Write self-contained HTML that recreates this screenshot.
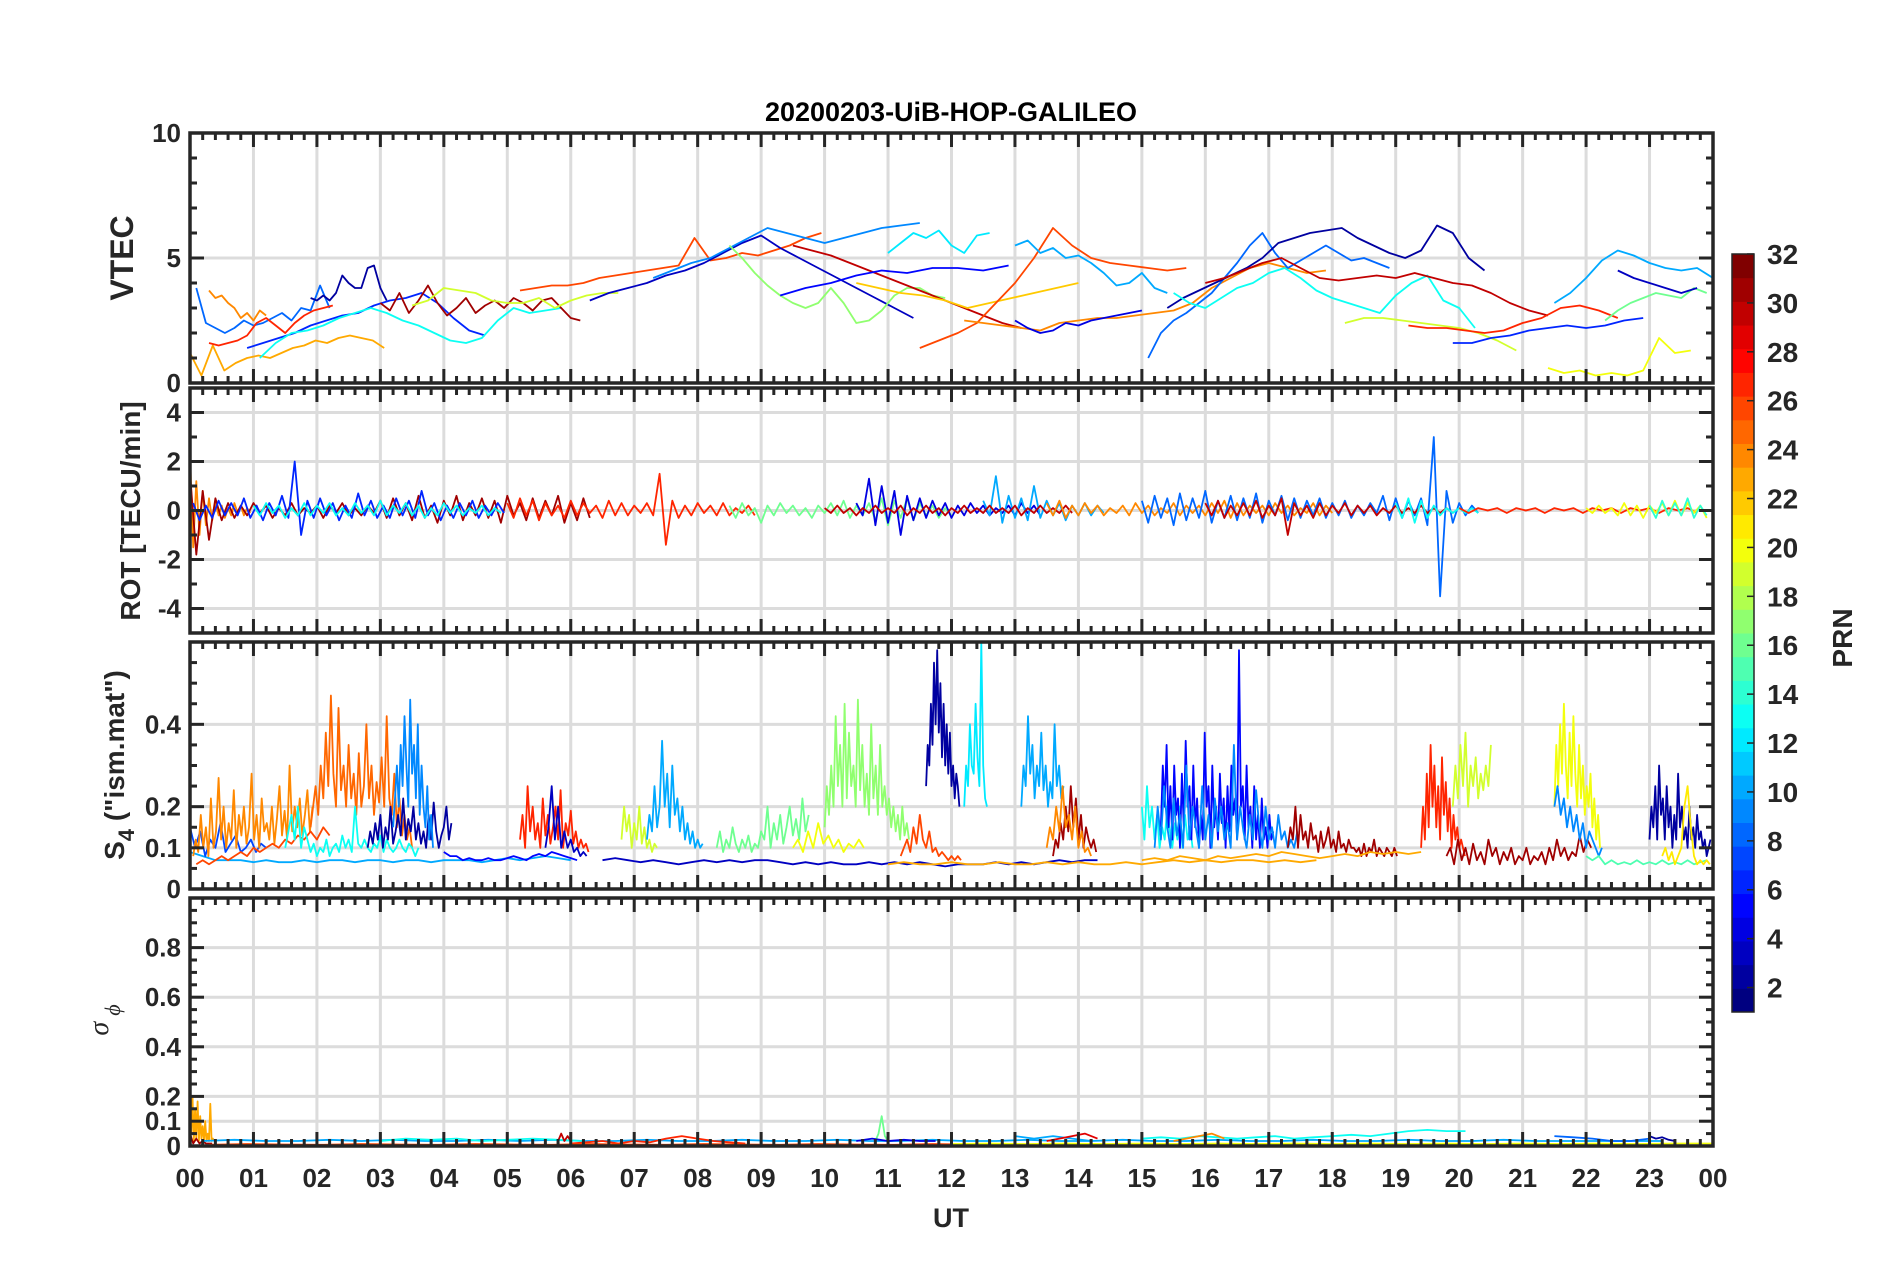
<!DOCTYPE html>
<html><head><meta charset="utf-8"><style>
html,body{margin:0;padding:0;background:#fff;}
svg{display:block;font-family:"Liberation Sans",Arial,sans-serif;}
</style></head><body>
<svg id="fig" width="1902" height="1272" viewBox="0 0 1902 1272" xmlns="http://www.w3.org/2000/svg">
<rect width="1902" height="1272" fill="#fff"/>
<text x="951" y="121" text-anchor="middle" font-size="27" font-weight="bold" fill="#000">20200203-UiB-HOP-GALILEO</text>
<g id="layers"></g>
</svg>
<script>
// ---------- data ----------
const hourLabels = ["00","01","02","03","04","05","06","07","08","09","10","11","12","13","14","15","16","17","18","19","20","21","22","23","00"];
const vtecTicks = [0,5,10];
const rotTicks = [-4,-2,0,2,4];
const s4Ticks = [0,0.1,0.2,0.4];
const sigTicks = [0,0.1,0.2,0.4,0.6,0.8];
const prnTicks = [2,4,6,8,10,12,14,16,18,20,22,24,26,28,30,32];

const vtecSeries = [
 {prn:24,t0:0.3,dt:0.1,v:[3.7,3.4,3.5,3.2,3.0,2.6,2.8,2.5,2.9,2.7]},
 {prn:23,t0:0,dt:0.18,v:[1.2,0.3,1.5,0.5,0.8,1.0,1.1,1.0,1.2,1.4,1.5,1.7,1.6,1.8,1.9,1.8,1.7,1.4]},
 {prn:8,t0:0.1,dt:0.15,v:[3.8,2.4,2.2,2.0,2.2,2.5,2.3,2.4,2.6,2.8,2.5,3.0,2.9,3.9,3.0]},
 {prn:27,t0:0.3,dt:0.15,v:[1.6,1.5,1.6,1.7,1.9,2.4,2.6,2.3,2.0,2.4,2.7,2.9,3.0,3.1]},
 {prn:2,t0:1.9,dt:0.1,v:[3.4,3.3,3.5,3.3,3.6,4.3,4.0,3.8,3.8,4.6,4.7,3.8,3.3]},
 {prn:6,t0:0.9,dt:0.25,v:[1.4,1.6,1.8,2.0,2.3,2.5,2.7,2.8,3.1,3.3,3.4,3.6,3.2,2.6,2.1,1.9]},
 {prn:13,t0:1.1,dt:0.25,v:[1.0,1.6,2.0,2.1,2.3,2.6,2.8,3.0,2.8,2.5,2.3,2.0,1.7,1.6,1.8,2.5,3.0,2.8,2.9,3.0]},
 {prn:31,t0:3.0,dt:0.15,v:[3.2,2.9,3.6,2.8,3.3,3.9,3.2,2.7,3.0,3.4,2.8,3.1,3.3,3.0,3.4,3.2,2.9,3.3,3.4,3.0,2.6,2.5]},
 {prn:19,t0:3.5,dt:0.25,v:[3.1,3.3,3.8,3.7,3.6,3.3,3.2,3.2,3.4,3.0,3.3,3.5,3.6,3.6]},
 {prn:26,t0:5.2,dt:0.25,v:[3.7,3.8,3.9,3.9,4.0,4.2,4.3,4.4,4.5,4.6,4.7,5.8,4.9,5.0,5.2,5.1,5.3,5.5,5.8,6.0]},
 {prn:3,t0:6.3,dt:0.3,v:[3.3,3.6,3.8,4.0,4.3,4.5,4.8,5.2,5.6,5.9,5.4,5.0,4.6,4.2,3.8,3.4,3.0,2.6]},
 {prn:9,t0:7.3,dt:0.3,v:[4.2,4.5,4.8,5.0,5.4,5.8,6.2,6.0,5.8,5.6,5.8,6.0,6.2,6.3,6.4]},
 {prn:17,t0:8.5,dt:0.2,v:[5.5,5.0,4.4,3.9,3.5,3.2,3.0,3.2,3.8,3.2,2.4,2.5,2.9,3.5,3.8,3.8,3.5,3.4]},
 {prn:30,t0:9.5,dt:0.3,v:[5.5,5.3,5.1,4.8,4.5,4.2,3.9,3.6,3.3,3.0,2.7,2.4,2.2]},
 {prn:5,t0:9.3,dt:0.4,v:[3.5,3.8,4.0,4.3,4.5,4.4,4.6,4.6,4.5,4.7]},
 {prn:22,t0:10.5,dt:0.35,v:[4.0,3.8,3.6,3.5,3.3,3.0,3.2,3.4,3.6,3.8,4.0]},
 {prn:12,t0:11,dt:0.2,v:[5.2,5.6,6.0,5.8,6.1,5.5,5.2,5.9,6.0]},
 {prn:26,t0:11.5,dt:0.3,v:[1.4,1.7,2.0,2.4,3.2,4.0,5.0,6.2,5.5,5.0,4.8,4.7,4.6,4.5,4.6]},
 {prn:24,t0:12.2,dt:0.3,v:[2.5,2.4,2.3,2.2,2.1,2.4,2.5,2.6,2.6,2.7,2.8,2.9,3.2,3.8,4.2,4.6,4.8,4.6,4.4,4.5]},
 {prn:10,t0:13.0,dt:0.2,v:[5.5,5.7,5.2,5.4,5.0,5.1,4.8,4.4,3.9,4.0,4.4,3.8,3.6]},
 {prn:4,t0:13,dt:0.2,v:[2.5,2.2,2.0,2.1,2.4,2.3,2.5,2.6,2.7,2.8,2.9]},
 {prn:8,t0:15.1,dt:0.2,v:[1.0,2.0,2.5,2.8,3.2,3.6,4.2,4.8,5.5,6.0,5.2,4.6,4.9,5.2,5.5,5.2,4.9,5.0,4.8,4.6]},
 {prn:2,t0:15.4,dt:0.25,v:[3.0,3.4,3.7,4.0,4.3,4.6,5.0,5.6,5.8,6.0,6.1,6.2,5.8,5.5,5.2,5.0,5.3,6.3,6.0,5.0,4.5]},
 {prn:13,t0:15.5,dt:0.25,v:[3.6,3.2,3.0,3.4,3.8,4.0,4.4,4.6,4.2,3.7,3.4,3.2,3.0,2.8,3.5,4.0,4.3,3.3,3.0,2.2]},
 {prn:30,t0:16,dt:0.3,v:[4.0,4.2,4.5,4.8,5.0,4.6,4.2,4.1,4.2,4.3,4.2,4.4,4.2,4.0,3.9,3.6,3.2,2.9,2.7]},
 {prn:19,t0:18.2,dt:0.3,v:[2.4,2.6,2.6,2.5,2.4,2.3,2.2,2.0,1.7,1.3]},
 {prn:27,t0:19.2,dt:0.3,v:[2.3,2.2,2.2,2.1,2.0,2.1,2.4,2.6,3.0,3.1,2.9,2.6]},
 {prn:6,t0:19.9,dt:0.3,v:[1.6,1.6,1.8,1.9,2.1,2.2,2.3,2.2,2.3,2.5,2.6]},
 {prn:10,t0:21.5,dt:0.25,v:[3.2,3.6,4.2,4.9,5.3,5.1,4.8,4.6,4.5,4.6,4.2,4.0,3.7,3.6,3.5]},
 {prn:16,t0:22.3,dt:0.2,v:[2.5,2.9,3.2,3.4,3.6,3.5,3.4,3.8,3.6]},
 {prn:20,t0:21.4,dt:0.25,v:[0.6,0.4,0.5,0.3,0.4,0.3,0.5,1.8,1.2,1.3]},
 {prn:3,t0:22.5,dt:0.25,v:[4.5,4.2,4.0,3.8,3.6,3.8]}
];

const rotSeries = [
 {prn:24,t0:0,dt:0.05,v:[2.3,-1.5,1.2,-1.0,0.8,-0.6,0.5,-0.4,0.3,-0.2,0.2,-0.3,0.1,-0.2,0.3,-0.1,0.2,-0.2,0.1,-0.1]},
 {prn:31,t0:0,dt:0.1,v:[1.5,-1.8,0.8,-1.2,0.5,-0.4,0.3,-0.3,0.2,-0.2,0.3,-0.1,0.2,-0.3,0.1,-0.2,0.3,-0.2,0.1,-0.1,0.2,-0.3,0.2,-0.1,0.3,-0.2,0.1,-0.2,0.2,-0.1,0.4,-0.3,0.5,-0.2,0.3,-0.4,0.6,-0.3,0.2,-0.5,0.4,-0.2,0.6,-0.4,0.3,-0.2,0.5,-0.3,0.4,-0.5,0.6,-0.2,0.3,-0.4,0.5,-0.3,0.4,-0.2,0.6,-0.5,0.3,-0.4,0.5,-0.3]},
 {prn:6,t0:0.05,dt:0.1,v:[0.3,-0.4,0.2,-0.3,0.4,-0.2,0.3,-0.2,0.5,-0.3,0.2,-0.4,0.3,-0.2,0.6,-0.3,2.0,-1.0,0.4,-0.3,0.5,-0.2,0.3,-0.4,0.2,-0.3,0.7,-0.2,0.4,-0.3,0.2,-0.3,0.5,-0.2,0.4,-0.3,0.8,-0.2,0.3,-0.4,0.2,-0.3,0.3,-0.2,0.4,-0.3,0.2,-0.2,0.3,-0.1]},
 {prn:13,t0:1.0,dt:0.1,v:[0.2,-0.2,0.3,-0.1,0.2,-0.3,0.1,-0.2,0.3,-0.2,0.2,-0.1,0.3,-0.2,0.1,-0.2,0.3,-0.1,0.2,-0.2,0.4,-0.2,0.2,-0.1,0.3,-0.2,0.2,-0.3,0.1,-0.2,0.3,-0.1,0.2,-0.2,0.1,-0.1,0.2,-0.2,0.1,-0.1]},
 {prn:27,t0:5.0,dt:0.1,v:[0.3,-0.3,0.5,-0.2,0.4,-0.4,0.3,-0.2,0.2,-0.3,0.4,-0.2,0.3,-0.1,0.2,-0.3,0.4,-0.2,0.3,-0.2,0.2,-0.1,0.3,-0.2,1.5,-1.4,0.4,-0.3,0.2,-0.2,0.3,-0.1,0.2,-0.2,0.3,-0.2,0.1,-0.1,0.2,-0.2]},
 {prn:16,t0:8.5,dt:0.1,v:[0.2,-0.3,0.3,-0.2,0.1,-0.5,0.2,-0.2,0.3,-0.1,0.2,-0.2,0.1,-0.3,0.2,-0.1,0.3,-0.2,0.4,-0.3,0.2,-0.2,0.3,-0.4,0.5,-0.6,0.4,-0.3,0.5,-0.4,0.3,-0.2,0.2,-0.3,0.1,-0.2]},
 {prn:4,t0:10.5,dt:0.1,v:[0.3,-0.2,1.3,-0.6,1.0,-0.5,0.8,-1.0,0.6,-0.4,0.5,-0.3,0.4,-0.2,0.3,-0.3,0.2,-0.2,0.3,-0.1,0.2,-0.2,0.1,-0.1,0.2,-0.2,0.3,-0.1,0.2,-0.2]},
 {prn:10,t0:12.5,dt:0.1,v:[0.4,-0.2,1.4,-0.5,0.6,-0.3,0.5,-0.4,1.0,-0.3,0.4,-0.2,0.3,-0.4,0.2,-0.2,0.3,-0.2,0.2,-0.1]},
 {prn:30,t0:10,dt:0.1,v:[0.1,-0.1,0.2,-0.1,0.1,-0.2,0.1,-0.1,0.2,-0.1,0.1,-0.1,0.2,-0.2,0.1,-0.1,0.2,-0.1,0.1,-0.2,0.1,-0.1,0.2,-0.1,0.1,-0.1,0.2,-0.1,0.1,-0.1,0.2,-0.2,0.1,-0.1,0.2,-0.1,0.1,-0.1,0.2,-0.1]},
 {prn:24,t0:13.5,dt:0.1,v:[0.3,-0.2,0.4,-0.3,0.2,-0.2,0.3,-0.1,0.2,-0.2,0.1,-0.1,0.2,-0.2,0.3,-0.1,0.2,-0.2,0.1,-0.1,0.3,-0.2,0.2,-0.1,0.2,-0.2,0.3,-0.1,0.4,-0.3,0.3,-0.2,0.2,-0.1,0.2,-0.2,0.3,-0.1,0.2,-0.2,0.1,-0.1,0.3,-0.2,0.2,-0.1]},
 {prn:8,t0:15,dt:0.1,v:[0.4,-0.5,0.6,-0.3,0.5,-0.6,0.7,-0.4,0.5,-0.3,0.8,-0.5,0.4,-0.3,0.6,-0.4,0.5,-0.3,0.7,-0.5,0.4,-0.2,0.6,-0.4,0.5,-0.3,0.4,-0.2,0.5,-0.3,0.3,-0.2,0.4,-0.3,0.2,-0.2,0.3,-0.1,0.6,-0.4,0.5,-0.3,0.4,-0.2,0.5,-0.6,3.0,-3.5,0.8,-0.5,0.3,-0.2,0.2,-0.1]},
 {prn:30,t0:16,dt:0.1,v:[0.3,-0.2,0.4,-0.3,0.2,-0.2,0.3,-0.2,0.4,-0.3,0.2,-0.2,0.5,-1.0,0.3,-0.2,0.2,-0.3,0.3,-0.2,0.2,-0.1,0.3,-0.2,0.2,-0.1,0.2,-0.2,0.1,-0.1,0.2,-0.1,0.1,-0.1,0.2,-0.1,0.1,-0.1,0.1,-0.1]},
 {prn:13,t0:19.0,dt:0.1,v:[0.3,-0.3,0.5,-0.5,0.4,-0.3,0.2,-0.2,0.1,-0.1,0.1,-0.1,0.1,-0.1]},
 {prn:27,t0:20,dt:0.15,v:[0.1,-0.1,0.1,0,0.1,-0.1,0.1,0,0.1,-0.1,0.1,0,0.1,-0.1,0.1,0,0.1,-0.1,0.1,0,0.1,-0.1,0.1,0,0.1,-0.1]},
 {prn:20,t0:22,dt:0.1,v:[0.1,-0.1,0.2,-0.1,0.1,-0.2,0.3,-0.2,0.2,-0.3,0.2,-0.1,0.3,-0.2,0.4,-0.2,0.3,-0.1,0.2,-0.3]},
 {prn:14,t0:23,dt:0.1,v:[0.2,-0.3,0.4,-0.2,0.3,-0.2,0.5,-0.3,0.2,-0.2]}
];

const s4Series = [
 {prn:10,t0:0,dt:0.2,v:[0.09,0.08,0.07,0.07,0.07,0.065,0.07,0.065,0.065,0.07,0.065,0.07,0.07,0.065,0.07,0.07,0.065,0.07,0.07,0.065,0.07,0.07,0.07,0.065,0.07,0.075,0.07,0.075,0.08,0.075,0.07]},
 {prn:7,t0:0,dt:0.08,v:[0.15,0.1,0.14,0.08,0.12,0.1,0.16,0.09,0.11,0.13,0.09,0.1,0.12,0.09,0.11,0.1]},
 {prn:24,t0:0.05,dt:0.04,v:[0.08,0.12,0.09,0.18,0.1,0.15,0.08,0.22,0.1,0.14,0.27,0.12,0.2,0.1,0.16,0.12,0.24,0.1,0.18,0.13,0.2,0.11,0.15,0.28,0.12,0.18,0.1,0.22,0.14,0.16,0.12,0.2,0.11,0.17,0.25,0.13,0.19,0.12,0.3,0.14,0.2,0.15,0.22,0.13,0.18,0.24,0.14,0.2]},
 {prn:25,t0:1.9,dt:0.04,v:[0.15,0.2,0.25,0.18,0.3,0.22,0.38,0.25,0.47,0.28,0.2,0.44,0.24,0.3,0.2,0.35,0.22,0.28,0.18,0.33,0.2,0.25,0.4,0.22,0.3,0.18,0.26,0.21,0.32,0.2,0.42,0.22,0.18,0.28,0.15,0.22,0.13,0.18,0.12,0.15,0.1]},
 {prn:26,t0:0.1,dt:0.1,v:[0.06,0.07,0.06,0.07,0.08,0.07,0.08,0.09,0.08,0.1,0.09,0.1,0.11,0.1,0.12,0.11,0.13,0.12,0.14,0.12,0.15,0.13]},
 {prn:13,t0:1.5,dt:0.05,v:[0.1,0.14,0.18,0.12,0.2,0.1,0.15,0.12,0.09,0.11,0.08,0.1,0.09,0.12,0.08,0.1,0.11,0.09,0.13,0.1,0.12,0.09,0.2,0.11,0.1,0.12,0.1,0.09,0.11,0.1,0.13,0.09,0.12,0.1,0.09,0.1,0.12,0.1,0.09,0.11,0.1,0.08,0.1]},
 {prn:2,t0:2.8,dt:0.04,v:[0.1,0.14,0.11,0.16,0.12,0.18,0.1,0.15,0.12,0.2,0.11,0.14,0.18,0.13,0.22,0.12,0.17,0.14,0.2,0.12,0.16,0.11,0.14,0.1,0.18,0.12,0.21,0.14,0.1,0.13,0.15,0.2,0.12,0.16]},
 {prn:9,t0:3.2,dt:0.03,v:[0.15,0.22,0.3,0.2,0.35,0.25,0.42,0.3,0.2,0.46,0.28,0.35,0.22,0.4,0.18,0.3,0.2,0.15,0.25,0.12,0.18,0.1]},
 {prn:5,t0:4.0,dt:0.1,v:[0.09,0.08,0.08,0.07,0.075,0.07,0.07,0.075,0.07,0.07,0.075,0.08,0.075,0.07,0.08,0.085,0.08,0.09,0.085,0.08,0.075,0.07]},
 {prn:27,t0:5.2,dt:0.04,v:[0.12,0.18,0.1,0.25,0.14,0.2,0.12,0.16,0.1,0.22,0.13,0.18,0.11,0.15,0.2,0.12,0.24,0.1,0.16,0.13,0.19,0.11,0.14,0.1,0.12,0.1,0.11,0.09]},
 {prn:3,t0:5.6,dt:0.05,v:[0.1,0.15,0.25,0.12,0.2,0.1,0.14,0.1,0.12,0.09,0.1,0.08,0.09,0.08]},
 {prn:19,t0:6.8,dt:0.04,v:[0.12,0.2,0.14,0.18,0.1,0.16,0.12,0.2,0.11,0.15,0.1,0.12,0.09,0.11,0.1]},
 {prn:10,t0:7.2,dt:0.04,v:[0.12,0.18,0.14,0.25,0.15,0.2,0.36,0.2,0.28,0.15,0.3,0.18,0.22,0.14,0.2,0.12,0.16,0.11,0.14,0.1,0.12,0.1,0.11]},
 {prn:3,t0:6.5,dt:0.2,v:[0.07,0.075,0.07,0.065,0.07,0.065,0.06,0.065,0.07,0.065,0.07,0.065,0.07,0.07,0.065,0.06,0.065,0.06,0.065,0.06,0.06,0.065,0.06,0.065,0.06,0.065,0.06,0.055,0.06,0.06,0.06,0.065,0.06,0.065,0.06,0.065,0.07,0.065,0.07,0.07]},
 {prn:16,t0:8.3,dt:0.05,v:[0.1,0.14,0.09,0.12,0.1,0.15,0.11,0.09,0.12,0.1,0.13,0.09,0.11,0.1,0.14,0.12,0.2,0.1,0.16,0.12,0.18,0.11,0.15,0.2,0.13,0.17,0.12,0.22,0.14,0.18]},
 {prn:17,t0:10.0,dt:0.035,v:[0.15,0.25,0.18,0.3,0.2,0.42,0.25,0.35,0.2,0.45,0.22,0.38,0.25,0.3,0.2,0.46,0.24,0.35,0.2,0.28,0.18,0.4,0.22,0.3,0.18,0.35,0.2,0.25,0.18,0.22,0.15,0.2,0.14,0.18,0.12,0.2,0.13,0.16,0.12]},
 {prn:20,t0:9.5,dt:0.08,v:[0.1,0.12,0.09,0.14,0.1,0.16,0.11,0.13,0.1,0.12,0.09,0.11,0.1,0.12,0.1]},
 {prn:2,t0:11.6,dt:0.025,v:[0.25,0.35,0.3,0.45,0.35,0.55,0.4,0.58,0.38,0.5,0.32,0.45,0.3,0.4,0.28,0.38,0.25,0.3,0.22,0.28,0.25,0.2]},
 {prn:12,t0:12.2,dt:0.03,v:[0.2,0.3,0.25,0.4,0.3,0.28,0.45,0.32,0.25,0.6,0.3,0.22,0.2]},
 {prn:26,t0:11.2,dt:0.05,v:[0.08,0.1,0.12,0.09,0.15,0.11,0.18,0.12,0.1,0.14,0.09,0.1,0.08,0.09,0.08,0.07,0.08,0.07,0.08,0.07]},
 {prn:10,t0:13.1,dt:0.035,v:[0.2,0.3,0.25,0.42,0.28,0.35,0.22,0.3,0.25,0.38,0.24,0.3,0.2,0.26,0.22,0.4,0.25,0.3,0.22,0.25]},
 {prn:31,t0:13.6,dt:0.04,v:[0.08,0.12,0.1,0.16,0.12,0.2,0.14,0.25,0.15,0.22,0.12,0.18,0.1,0.15,0.12,0.1,0.12,0.09]},
 {prn:24,t0:13.5,dt:0.05,v:[0.1,0.15,0.12,0.2,0.14,0.25,0.15,0.18,0.12,0.2,0.1,0.14,0.09,0.1,0.08]},
 {prn:23,t0:11,dt:0.25,v:[0.06,0.065,0.06,0.06,0.065,0.06,0.06,0.065,0.06,0.06,0.065,0.06,0.065,0.06,0.06,0.065,0.06,0.065,0.07,0.065,0.07,0.065,0.07,0.07,0.065,0.07,0.065,0.07]},
 {prn:13,t0:15.0,dt:0.04,v:[0.2,0.12,0.25,0.15,0.2,0.12,0.18,0.1,0.15,0.12,0.2,0.14,0.1,0.16,0.12,0.2,0.1,0.18,0.12,0.15,0.1]},
 {prn:5,t0:15.3,dt:0.03,v:[0.15,0.3,0.2,0.35,0.15,0.25,0.12,0.3,0.18,0.22,0.1,0.28,0.15,0.36,0.2,0.25,0.12,0.3,0.15,0.22,0.1,0.18,0.12,0.38,0.2,0.25,0.1,0.3,0.15,0.2,0.12,0.28,0.16,0.22,0.1,0.25,0.14,0.3,0.18,0.22,0.12,0.58,0.2,0.25,0.12,0.3,0.15,0.2,0.1,0.25,0.12,0.18,0.1,0.22,0.12,0.15,0.1,0.18,0.12,0.14]},
 {prn:9,t0:15.2,dt:0.05,v:[0.1,0.2,0.12,0.25,0.15,0.1,0.22,0.13,0.18,0.1,0.3,0.12,0.2,0.15,0.1,0.25,0.12,0.18,0.1,0.22,0.14,0.2,0.12,0.16,0.1,0.35,0.12,0.2,0.14,0.1,0.18,0.12,0.24,0.15,0.1,0.2,0.12,0.15,0.1,0.18,0.12,0.14,0.1,0.12,0.1,0.14]},
 {prn:31,t0:17.3,dt:0.04,v:[0.1,0.15,0.12,0.2,0.1,0.18,0.12,0.14,0.1,0.16,0.12,0.13,0.09,0.14,0.1,0.12,0.15,0.1,0.12,0.09,0.14,0.1,0.11,0.09,0.12,0.1,0.1,0.09,0.1,0.08,0.11,0.08,0.1,0.09,0.12,0.08,0.1,0.09,0.08,0.1,0.09,0.08,0.1,0.08]},
 {prn:23,t0:15,dt:0.2,v:[0.07,0.075,0.07,0.08,0.075,0.07,0.08,0.075,0.08,0.085,0.08,0.09,0.085,0.08,0.075,0.08,0.085,0.08,0.09,0.085,0.09,0.085,0.09]},
 {prn:27,t0:19.4,dt:0.03,v:[0.1,0.2,0.12,0.28,0.15,0.35,0.2,0.3,0.15,0.25,0.12,0.32,0.18,0.26,0.14,0.22,0.1,0.18,0.12,0.15,0.1,0.12,0.1,0.08]},
 {prn:19,t0:19.9,dt:0.04,v:[0.2,0.3,0.22,0.35,0.25,0.38,0.2,0.3,0.25,0.32,0.22,0.28,0.24,0.3,0.25,0.35]},
 {prn:31,t0:19.8,dt:0.06,v:[0.08,0.1,0.06,0.12,0.07,0.1,0.06,0.11,0.07,0.09,0.06,0.12,0.08,0.1,0.06,0.09,0.07,0.1,0.06,0.08,0.07,0.1,0.06,0.08,0.07,0.09,0.06,0.1,0.07,0.12,0.08,0.1,0.07,0.09,0.08,0.13,0.09,0.12,0.1]},
 {prn:20,t0:21.5,dt:0.03,v:[0.2,0.35,0.25,0.4,0.28,0.45,0.3,0.22,0.38,0.25,0.42,0.28,0.2,0.35,0.22,0.3,0.18,0.25,0.2,0.28,0.15,0.22,0.12,0.18,0.1]},
 {prn:9,t0:21.5,dt:0.05,v:[0.2,0.25,0.18,0.22,0.15,0.2,0.14,0.18,0.12,0.16,0.1,0.14,0.12,0.1,0.08,0.1]},
 {prn:15,t0:22.0,dt:0.1,v:[0.08,0.07,0.08,0.06,0.07,0.06,0.065,0.06,0.07,0.06,0.065,0.06,0.07,0.06,0.065,0.06,0.07,0.06,0.065,0.07]},
 {prn:2,t0:23.0,dt:0.03,v:[0.12,0.2,0.15,0.25,0.12,0.3,0.18,0.22,0.12,0.25,0.15,0.2,0.1,0.18,0.12,0.28,0.15,0.2,0.12,0.15,0.1,0.2,0.12,0.15,0.1,0.18,0.12,0.14,0.1,0.12,0.08,0.1,0.12]},
 {prn:21,t0:23.2,dt:0.05,v:[0.08,0.1,0.07,0.09,0.06,0.08,0.1,0.2,0.25,0.15,0.08,0.06,0.07,0.06,0.07,0.06]}
];

const sigSeries = [
 {prn:23,t0:0,dt:0.02,v:[0.3,0.05,0.2,0.02,0.15,0.03,0.18,0.02,0.12,0.03,0.08,0.02,0.1,0.02,0.05,0.02,0.17,0.02,0.03,0.02]},
 {prn:31,t0:0,dt:0.05,v:[0.05,0.01,0.03,0.01,0.02,0.01,0.01,0.01]},
 {prn:10,t0:0.2,dt:0.5,v:[0.02,0.025,0.02,0.02,0.025,0.02,0.025,0.02,0.02,0.025,0.02,0.025,0.02,0.02,0.025,0.02,0.02,0.025,0.02,0.02,0.025,0.02,0.02,0.025,0.02,0.02,0.025,0.02,0.02,0.025,0.02,0.02,0.025,0.02,0.02,0.025,0.02,0.02,0.025,0.02,0.02,0.025,0.02,0.02,0.02,0.02,0.02]},
 {prn:13,t0:3,dt:0.4,v:[0.02,0.03,0.025,0.03,0.02,0.025,0.03,0.025,0.02]},
 {prn:27,t0:6,dt:0.25,v:[0.01,0.015,0.02,0.01,0.02,0.015,0.03,0.04,0.03,0.02,0.015,0.01]},
 {prn:30,t0:5.8,dt:0.05,v:[0.02,0.05,0.02,0.04,0.02]},
 {prn:16,t0:10.8,dt:0.05,v:[0.02,0.05,0.12,0.04,0.02]},
 {prn:4,t0:10.5,dt:0.25,v:[0.02,0.03,0.02,0.025,0.02,0.02]},
 {prn:10,t0:13,dt:0.3,v:[0.04,0.03,0.04,0.03,0.02]},
 {prn:29,t0:13.5,dt:0.2,v:[0.02,0.03,0.04,0.05,0.03]},
 {prn:13,t0:15,dt:0.3,v:[0.03,0.035,0.03,0.04,0.035,0.03,0.035,0.04,0.03,0.035,0.04,0.045,0.04,0.05,0.06,0.065,0.06,0.06]},
 {prn:24,t0:15.5,dt:0.2,v:[0.02,0.03,0.04,0.05,0.03]},
 {prn:8,t0:21.5,dt:0.3,v:[0.04,0.035,0.03,0.02,0.02,0.03]},
 {prn:2,t0:23,dt:0.1,v:[0.04,0.03,0.035,0.025,0.02]},
 {prn:26,t0:0.3,dt:0.6,v:[0.005,0.008,0.006,0.005,0.008,0.006,0.005,0.008,0.006,0.005,0.008,0.006,0.005,0.008,0.006,0.005,0.008,0.006,0.005,0.008,0.006,0.005,0.008,0.006,0.005,0.008,0.006,0.005,0.008,0.006,0.005,0.008,0.006,0.005,0.008,0.006,0.005,0.008,0.005]},
 {prn:20,t0:12,dt:0.6,v:[0.008,0.01,0.008,0.01,0.008,0.01,0.008,0.01,0.008,0.01,0.008,0.01,0.008,0.01,0.008,0.01,0.008,0.01,0.008,0.01,0.01]}
];

// ---------- layout ----------
const X0 = 190, X1 = 1713;
const panels = [
 {name:"vtec", top:133, bot:383, min:0, max:10, ticks:vtecTicks, minor:1, grid:[5], series:vtecSeries},
 {name:"rot", top:388, bot:633, min:-5, max:5, ticks:rotTicks, minor:1, grid:[-4,-2,0,2,4], series:rotSeries},
 {name:"s4", top:642, bot:889, min:0, max:0.6, ticks:s4Ticks, minor:0.05, grid:[0.1,0.2,0.4], series:s4Series},
 {name:"sigma-phi", top:898, bot:1146, min:0, max:1, ticks:sigTicks, minor:0.05, grid:[0.1,0.2,0.4,0.6,0.8], series:sigSeries}
];
const xScale = t => X0 + t*(X1-X0)/24;

function jet(p){
  const x=(p-1)/31;
  const c=v=>Math.round(255*Math.max(0,Math.min(1,v)));
  return `rgb(${c(1.5-Math.abs(4*x-3))},${c(1.5-Math.abs(4*x-2))},${c(1.5-Math.abs(4*x-1))})`;
}
const NS="http://www.w3.org/2000/svg";
const root=document.getElementById("layers");
function mk(tag,attrs,parent){const e=document.createElementNS(NS,tag);for(const k in attrs)e.setAttribute(k,attrs[k]);(parent||root).appendChild(e);return e;}
const AX="#262626";

panels.forEach((P,pi)=>{
  const g=mk("g",{});
  
  
  const yS=v=>P.bot-(v-P.min)*(P.bot-P.top)/(P.max-P.min);
  for(let h=1;h<24;h++){
    const l=mk("line",{x1:xScale(h),x2:xScale(h),y1:P.top,y2:P.bot,stroke:"#dcdcdc","stroke-width":3},g);
    
    
  }
  P.grid.forEach(v=>{
    const l=mk("line",{x1:X0,x2:X1,y1:yS(v),y2:yS(v),stroke:"#dcdcdc","stroke-width":3},g);
    
    
  });
  const clip=mk("clipPath",{id:"clip"+pi},g);
  mk("rect",{x:X0,y:P.top,width:X1-X0,height:P.bot-P.top},clip);
  const sg=mk("g",{"clip-path":`url(#clip${pi})`},g);
  P.series.forEach(s=>{
    const pts=s.v.map((v,i)=>xScale(s.t0+i*s.dt).toFixed(1)+","+yS(v).toFixed(1)).join(" ");
    const pl=mk("polyline",{points:pts,fill:"none",stroke:jet(s.prn),"stroke-width":1.8,"stroke-linejoin":"round"},sg);
    
    
  });
  const tk=mk("g",{stroke:AX,"stroke-width":3},g);
  for(let m=0;m<=120;m++){
    const x=xScale(m/5), len=(m%5===0)?14:7;
    mk("line",{x1:x,x2:x,y1:P.top,y2:P.top+len},tk);
    mk("line",{x1:x,x2:x,y1:P.bot,y2:P.bot-len},tk);
  }
  const nMin=Math.round((P.max-P.min)/P.minor);
  for(let m=0;m<=nMin;m++){
    const v=P.min+m*P.minor, y=yS(v);
    const major=P.ticks.some(t=>Math.abs(t-v)<1e-9);
    const len=major?14:7;
    mk("line",{x1:X0,x2:X0+len,y1:y,y2:y},tk);
    mk("line",{x1:X1,x2:X1-len,y1:y,y2:y},tk);
  }
  const box=mk("rect",{x:X0,y:P.top,width:X1-X0,height:P.bot-P.top,fill:"none",stroke:AX,"stroke-width":3.5},g);
  
  
  P.ticks.forEach(v=>{
    const t=mk("text",{x:X0-9,y:yS(v)+9,"text-anchor":"end","font-size":26,"font-weight":"bold",fill:AX},g);
    t.textContent=String(v);
    
    
  });
});

hourLabels.forEach((lab,i)=>{
  const t=mk("text",{x:xScale(i),y:1187,"text-anchor":"middle","font-size":26,"font-weight":"bold",fill:AX});
  t.textContent=lab;
  
  
});
</script>
<script>
(function(){
const svg=document.getElementById("fig");
const NS="http://www.w3.org/2000/svg";
function mk(tag,attrs,parent){const e=document.createElementNS(NS,tag);for(const k in attrs)e.setAttribute(k,attrs[k]);(parent||svg).appendChild(e);return e;}
const AX="#262626";
const ut=mk("text",{x:951,y:1227,"text-anchor":"middle","font-size":27,"font-weight":"bold",fill:AX});
ut.textContent="UT";



const t1=mk("text",{transform:"translate(133,258) rotate(-90)","text-anchor":"middle","font-size":32,"font-weight":"bold",fill:AX});
t1.textContent="VTEC";



const t2=mk("text",{transform:"translate(140,511) rotate(-90)","text-anchor":"middle","font-size":28,"font-weight":"bold",fill:AX});
t2.textContent="ROT [TECU/min]";



const t3=mk("text",{transform:"translate(124,765) rotate(-90)","text-anchor":"middle","font-size":28,"font-weight":"bold",fill:AX});
t3.innerHTML='S<tspan dy="10" font-size="22">4</tspan><tspan dy="-10"> ("ism.mat")</tspan>';



const t4=mk("text",{transform:"translate(108,1020) rotate(-90)","text-anchor":"middle","font-size":28,"font-style":"italic",fill:AX,"font-family":"Liberation Serif, serif"});
t4.innerHTML='σ<tspan dy="12" dx="6" font-size="22">ϕ</tspan>';



const CB={x:1732,w:22,top:254,bot:1012};
const prnMin=1, prnMax=32;
const cb=mk("g",{});


const cy=v=>CB.bot-(v-prnMin)*(CB.bot-CB.top)/(prnMax-prnMin);
const blockH=(CB.bot-CB.top)/32;
for(let p=1;p<=32;p++){
  const x=(p-1)/31;
  const c=v=>Math.round(255*Math.max(0,Math.min(1,v)));
  const col=`rgb(${c(1.5-Math.abs(4*x-3))},${c(1.5-Math.abs(4*x-2))},${c(1.5-Math.abs(4*x-1))})`;
  const r=mk("rect",{x:CB.x,y:CB.bot-p*blockH,width:CB.w,height:blockH+0.5,fill:col},cb);
  
  
}
mk("rect",{x:CB.x,y:CB.top,width:CB.w,height:CB.bot-CB.top,fill:"none",stroke:AX,"stroke-width":1.5},cb);
prnTicks.forEach(v=>{
  mk("line",{x1:CB.x+CB.w,x2:CB.x+CB.w-7,y1:cy(v),y2:cy(v),stroke:AX,"stroke-width":1.5},cb);
  const t=mk("text",{x:1767,y:cy(v)+10,"font-size":28,"font-weight":"bold",fill:AX},cb);
  t.textContent=String(v);
  
  
});
const pl=mk("text",{transform:"translate(1852,638) rotate(-90)","text-anchor":"middle","font-size":28,"font-weight":"bold",fill:AX});
pl.textContent="PRN";


})();
</script>
</body></html>
